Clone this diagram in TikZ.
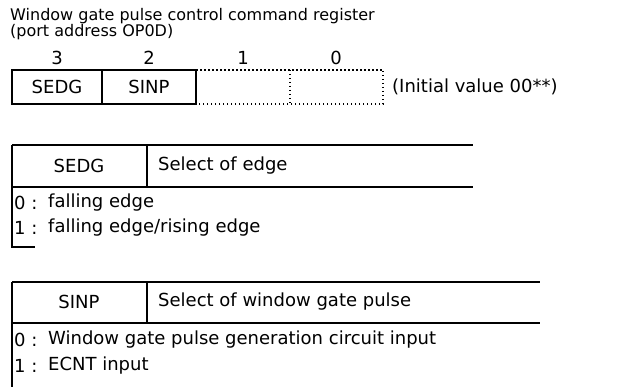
\documentclass[tikz,border=0pt]{standalone}
\usepackage{fontspec}
\setmainfont{DejaVu Sans}
\begin{document}
\begin{tikzpicture}[x=1pt,y=-1pt,
  txt/.style={inner sep=0pt,font=\fontsize{18}{18}\selectfont},
  ttl/.style={inner sep=0pt,font=\fontsize{16}{16}\selectfont},
  solidline/.style={line width=2pt},
  dotline/.style={line width=1.5pt,dash pattern=on 1.5pt off 2.5pt}]
\useasboundingbox (0,0) rectangle (618,387);
% title
\node[ttl,anchor=base west] (t1) at (10,21) {Window gate pulse control command register};
\node[ttl,anchor=base west] (t2) at (10,37) {(port address OP0D)};
% register boxes
\node[txt] (b3) at (57,58) {3};
\node[txt] (b2) at (149,58) {2};
\node[txt] (b1) at (243,58) {1};
\node[txt] (b0) at (336,58) {0};
\draw[solidline] (12,70) rectangle (196,104);
\draw[solidline] (102,70) -- (102,104);
\draw[dotline] (196,70) -- (383,70) -- (383,104) -- (196,104);
\draw[dotline] (290,70) -- (290,104);
\node[txt] (sedg) at (57,87) {SEDG};
\node[txt] (sinp) at (149,87) {SINP};
\node[txt,anchor=west] (init) at (392,87) {(Initial value 00**)};
% SEDG table
\draw[solidline] (12,145) -- (473,145);
\draw[solidline] (12,187) -- (473,187);
\draw[solidline] (147,145) -- (147,187);
\draw[solidline] (12,145) -- (12,247) -- (35,247);
\node[txt] (h1) at (79,166) {SEDG};
\node[txt,anchor=west] (h1d) at (158,166) {Select of edge};
\node[txt,anchor=west] (e0n) at (14,203) {0 :};
\node[txt,anchor=west] (e0) at (48,203) {falling edge};
\node[txt,anchor=west] (e1n) at (14,228) {1 :};
\node[txt,anchor=west] (e1) at (48,228) {falling edge/rising edge};
% SINP table
\draw[solidline] (12,282) -- (540,282);
\draw[solidline] (12,323) -- (540,323);
\draw[solidline] (147,282) -- (147,323);
\draw[solidline] (12,282) -- (12,387);
\node[txt] (h2) at (79,302) {SINP};
\node[txt,anchor=west] (h2d) at (158,302) {Select of window gate pulse};
\node[txt,anchor=west] (s0n) at (14,340) {0 :};
\node[txt,anchor=west] (s0) at (48,340) {Window gate pulse generation circuit input};
\node[txt,anchor=west] (s1n) at (14,366) {1 :};
\node[txt,anchor=west] (s1) at (48,366) {ECNT input};
\end{tikzpicture}
\end{document}
